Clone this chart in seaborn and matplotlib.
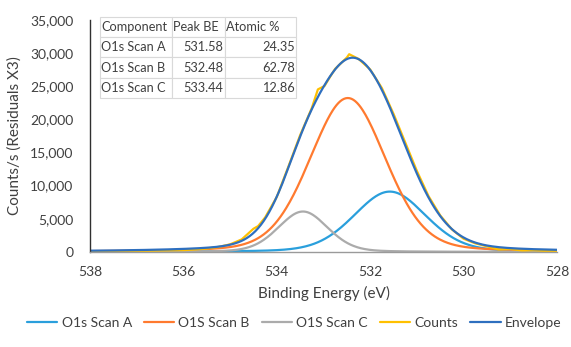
import numpy as np
import pandas as pd
import seaborn as sns
import matplotlib
matplotlib.use("Agg")
import matplotlib.pyplot as plt
from matplotlib.ticker import FuncFormatter

# Fitted O 1s components (peak BE from the fit table, heights and FWHM in eV)
components = ["O1s Scan A", "O1S Scan B", "O1S Scan C"]
table_names = ["O1s Scan A", "O1s Scan B", "O1s Scan C"]
peak_be = [531.58, 532.48, 533.44]
atomic_pct = [24.35, 62.78, 12.86]
peak_height = [9100, 23200, 6100]
peak_fwhm = [1.82, 1.92, 1.25]
lorentz_fraction = 0.2

# Measured counts/s
count_energy = [538.0, 537.5, 537.0, 536.5, 536.0, 535.75, 535.5, 535.25, 535.0,
                534.75, 534.5, 534.4, 534.25, 534.0, 533.75, 533.5, 533.25, 533.12,
                532.98, 532.85, 532.75, 532.5, 532.45, 532.25, 532.0, 531.75, 531.5,
                531.25, 531.0, 530.75, 530.5, 530.25, 530.0, 529.75, 529.5, 529.25,
                529.0, 528.75, 528.5, 528.25, 528.0]
counts = [60, 120, 150, 210, 280, 380, 520, 760, 1150,
          1900, 3500, 3900, 5200, 8300, 12900, 17600, 21700, 24500,
          25000, 26500, 27600, 29300, 29800, 29100, 27500, 24700, 20800,
          16500, 12200, 8400, 5500, 3400, 2000, 1300, 850, 380,
          450, 220, 260, 150, 100]

colors = {"O1s Scan A": "#2A9FDC", "O1S Scan B": "#FF7A2F", "O1S Scan C": "#ABABAB",
          "Counts": "#FFC000", "Envelope": "#2E6FBF"}


def gl_peak(x, center, height, fwhm, m):
    d = (x - center) / fwhm
    return height * ((1 - m) * np.exp(-4 * np.log(2) * d ** 2) + m / (1 + 4 * d ** 2))


energy = np.linspace(528, 538, 501)
frames = []
envelope = np.zeros_like(energy)
for name, c, h, w in zip(components, peak_be, peak_height, peak_fwhm):
    y = gl_peak(energy, c, h, w, lorentz_fraction)
    envelope += y
    frames.append(pd.DataFrame({"be": energy, "cps": y, "series": name}))
frames.append(pd.DataFrame({"be": count_energy, "cps": counts, "series": "Counts"}))
frames.append(pd.DataFrame({"be": energy, "cps": envelope, "series": "Envelope"}))
df = pd.concat(frames, ignore_index=True)

sns.set_style("white")
plt.rcParams["font.family"] = ["Lato", "DejaVu Sans"]
text_col = "#404040"

fig = plt.figure(figsize=(5.71, 3.47), dpi=100)
ax = fig.add_axes([0.1576, 0.2738, 0.8179, 0.6694])

order = components + ["Counts", "Envelope"]
sns.lineplot(data=df, x="be", y="cps", hue="series", hue_order=order,
             palette=colors, linewidth=1.6, sort=False, ax=ax, legend=False,
             estimator=None)

ax.set_xlim(538, 528)
ax.set_ylim(0, 35000)
ax.set_xticks([538, 536, 534, 532, 530, 528])
ax.set_yticks(np.arange(0, 35001, 5000))
ax.yaxis.set_major_formatter(FuncFormatter(lambda v, p: f"{int(v):,}"))
ax.tick_params(axis="both", labelsize=10, colors=text_col, length=4, width=0.8,
               direction="out")
ax.tick_params(axis="y", pad=8)
ax.tick_params(axis="x", pad=6)
for t in ax.get_xticklabels() + ax.get_yticklabels():
    t.set_color(text_col)

for side in ["top", "right"]:
    ax.spines[side].set_visible(False)
ax.spines["left"].set_color("#303030")
ax.spines["left"].set_linewidth(1.0)
ax.spines["bottom"].set_color("#9A9A9A")
ax.spines["bottom"].set_linewidth(1.0)

ax.set_xlabel("Binding Energy (eV)", fontsize=11, color=text_col, labelpad=6)
ax.set_ylabel("Counts/s (Residuals X3)", fontsize=11, color=text_col, labelpad=6)

# Fit summary table
cell_text = [["Component", "Peak BE", "Atomic %"]]
for n, be, pct in zip(table_names, peak_be, atomic_pct):
    cell_text.append([n, f"{be:.2f}", f"{pct:.2f}"])
tbl = ax.table(cellText=cell_text, bbox=[0.021, 0.663, 0.42, 0.35],
               colWidths=[0.367, 0.27, 0.363], zorder=5)
tbl.auto_set_font_size(False)
for (r, c), cell in tbl.get_celld().items():
    cell.set_edgecolor("#D9D9D9")
    cell.set_linewidth(0.8)
    cell.set_facecolor("white")
    cell.PAD = 0.02
    txt = cell.get_text()
    txt.set_fontsize(9.2)
    txt.set_color(text_col)
    if r == 0 or c == 0:
        cell._loc = "left"
        txt.set_horizontalalignment("left")
    else:
        cell._loc = "right"
        txt.set_horizontalalignment("right")

handles = [plt.Line2D([], [], color=colors[s], linewidth=1.6) for s in order]
fig.legend(handles, order, loc="lower center", bbox_to_anchor=(0.515, 0.015),
           ncol=5, frameon=False, fontsize=10, handlelength=2.2,
           handletextpad=0.3, columnspacing=0.85, labelcolor=text_col)

fig.savefig("out.png", dpi=100)
